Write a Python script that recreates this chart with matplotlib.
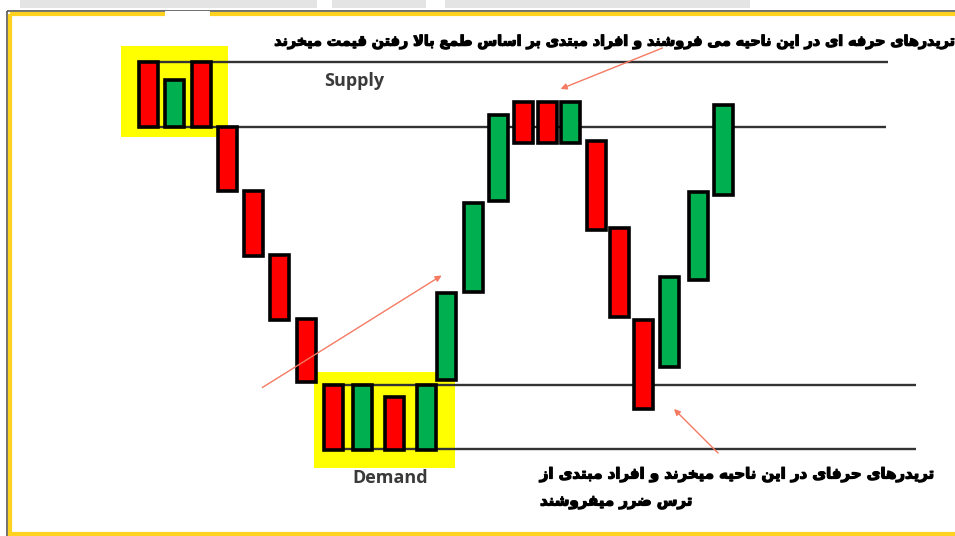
import matplotlib
matplotlib.use('Agg')
import matplotlib.pyplot as plt
import matplotlib.patheffects as pe
from matplotlib.patches import Rectangle

# candle data, in picture units (y grows downward)
candle_x = [148, 174, 201, 227, 253, 279, 306, 333, 362, 394, 426,
            446, 473, 498, 523, 547, 570, 596, 619, 643, 669, 698, 723]
candle_open = [62, 127, 62, 127, 191, 255, 319, 385, 450, 397, 450,
               380, 292, 201, 102, 102, 143, 141, 228, 320, 367, 280, 195]
candle_close = [127, 80, 127, 191, 256, 320, 382, 450, 385, 450, 385,
                293, 203, 115, 143, 143, 102, 230, 317, 409, 277, 192, 105]

supply_levels = [62, 127]
demand_levels = [385, 449]

top_text = 'تریدرهای حرفه ای در این ناحیه می فروشند و افراد مبتدی بر اساس طمع بالا رفتن قیمت میخرند'
bottom_line1 = 'تریدرهای حرفای در این ناحیه میخرند و افراد مبتدی از'
bottom_line2 = 'ترس ضرر میفروشند'

# presentation forms: isolated, final, initial, medial
FORMS = {
    'ا': '\uFE8D\uFE8E',
    'ب': '\uFE8F\uFE90\uFE91\uFE92',
    'ت': '\uFE95\uFE96\uFE97\uFE98',
    'ح': '\uFEA1\uFEA2\uFEA3\uFEA4',
    'خ': '\uFEA5\uFEA6\uFEA7\uFEA8',
    'د': '\uFEA9\uFEAA',
    'ر': '\uFEAD\uFEAE',
    'ز': '\uFEAF\uFEB0',
    'س': '\uFEB1\uFEB2\uFEB3\uFEB4',
    'ش': '\uFEB5\uFEB6\uFEB7\uFEB8',
    'ض': '\uFEBD\uFEBE\uFEBF\uFEC0',
    'ط': '\uFEC1\uFEC2\uFEC3\uFEC4',
    'ع': '\uFEC9\uFECA\uFECB\uFECC',
    'ف': '\uFED1\uFED2\uFED3\uFED4',
    'ق': '\uFED5\uFED6\uFED7\uFED8',
    'ل': '\uFEDD\uFEDE\uFEDF\uFEE0',
    'م': '\uFEE1\uFEE2\uFEE3\uFEE4',
    'ن': '\uFEE5\uFEE6\uFEE7\uFEE8',
    'ه': '\uFEE9\uFEEA\uFEEB\uFEEC',
    'و': '\uFEED\uFEEE',
    'ی': '\uFEEF\uFEF0\uFEF3\uFEF4',
}


def shape(text):
    # matplotlib has no arabic shaping, so pick the joined forms by hand
    chars = list(text)
    res = []
    i = 0
    while i < len(chars):
        c = chars[i]
        if c not in FORMS:
            res.append(c)
            i += 1
            continue
        prev = chars[i - 1] if i > 0 else ''
        joins_prev = prev in FORMS and len(FORMS[prev]) == 4
        if c == 'ل' and i + 1 < len(chars) and chars[i + 1] == 'ا':
            res.append('\uFEFC' if joins_prev else '\uFEFB')
            i += 2
            continue
        nxt = chars[i + 1] if i + 1 < len(chars) else ''
        f = FORMS[c]
        joins_next = len(f) == 4 and nxt in FORMS
        if joins_prev and joins_next:
            res.append(f[3])
        elif joins_prev:
            res.append(f[1])
        elif joins_next:
            res.append(f[2])
        else:
            res.append(f[0])
        i += 1
    return ''.join(res)[::-1]


fig = plt.figure(figsize=(9.55, 5.36), dpi=100)
ax = fig.add_axes([0, 0, 1, 1])
ax.set_xlim(0, 955)
ax.set_ylim(536, 0)
ax.axis('off')

# screenshot frame
for x0, x1 in [(20, 317), (332, 426), (445, 750)]:
    ax.add_patch(Rectangle((x0, 0), x1 - x0, 8, color='#e4e4e4', lw=0))
ax.add_patch(Rectangle((7, 11), 960, 540, fill=False, ec='#555555', lw=1.2))
ax.add_patch(Rectangle((10, 13.5), 960, 520, fill=False, ec='#ffd21f', lw=3))
ax.add_patch(Rectangle((165, 11), 45, 7, color='white', lw=0))

# yellow zones
ax.add_patch(Rectangle((121, 46), 107, 91, color='#ffff00', lw=0))
ax.add_patch(Rectangle((314, 372), 141, 96, color='#ffff00', lw=0))

ax.hlines(supply_levels, 138, [888, 886], color='#333333', lw=1.7)
ax.hlines(demand_levels, 323, 916, color='#333333', lw=1.7)
ax.add_patch(Rectangle((322, 122), 55, 9, color='white', alpha=0.75, lw=0))

width = 19
for x, o, c in zip(candle_x, candle_open, candle_close):
    color = '#00b050' if c < o else '#ff0000'
    ax.add_patch(Rectangle((x - width / 2, min(o, c)), width, abs(c - o),
                           fc=color, ec='black', lw=2.6, zorder=3))

ax.text(354, 81, 'Supply', fontsize=13, fontweight='bold', color='#3a3a3a',
        family='Open Sans', ha='center', va='center')
ax.text(390, 478, 'Demand', fontsize=13, fontweight='bold', color='#3a3a3a',
        family='Open Sans', ha='center', va='center')

arrow = dict(arrowstyle='-|>', color='#f47a62', lw=1, mutation_scale=9)
ax.annotate('', xy=(558, 90), xytext=(665, 47), arrowprops=arrow)
ax.annotate('', xy=(444, 274), xytext=(260, 389), arrowprops=arrow)
ax.annotate('', xy=(672, 407), xytext=(720, 455), arrowprops=arrow)

bold = [pe.withStroke(linewidth=0.9, foreground='black')]
t_top = ax.text(954, 42, shape(top_text), fontsize=12, fontweight='bold',
                ha='right', va='center', color='black', path_effects=bold)
t_b1 = ax.text(933, 475, shape(bottom_line1), fontsize=12, fontweight='bold',
               ha='right', va='center', color='black', path_effects=bold)
t_b2 = ax.text(540, 502, shape(bottom_line2), fontsize=12, fontweight='bold',
               ha='left', va='center', color='black', path_effects=bold)

# fit the text widths to the picture
fig.canvas.draw()
r = fig.canvas.get_renderer()
w = t_top.get_window_extent(r).width
t_top.set_fontsize(12 * 680 / w)
w = t_b1.get_window_extent(r).width
t_b1.set_fontsize(12 * 394 / w)
t_b2.set_fontsize(12 * 394 / w)

fig.savefig('out.png', dpi=100)
